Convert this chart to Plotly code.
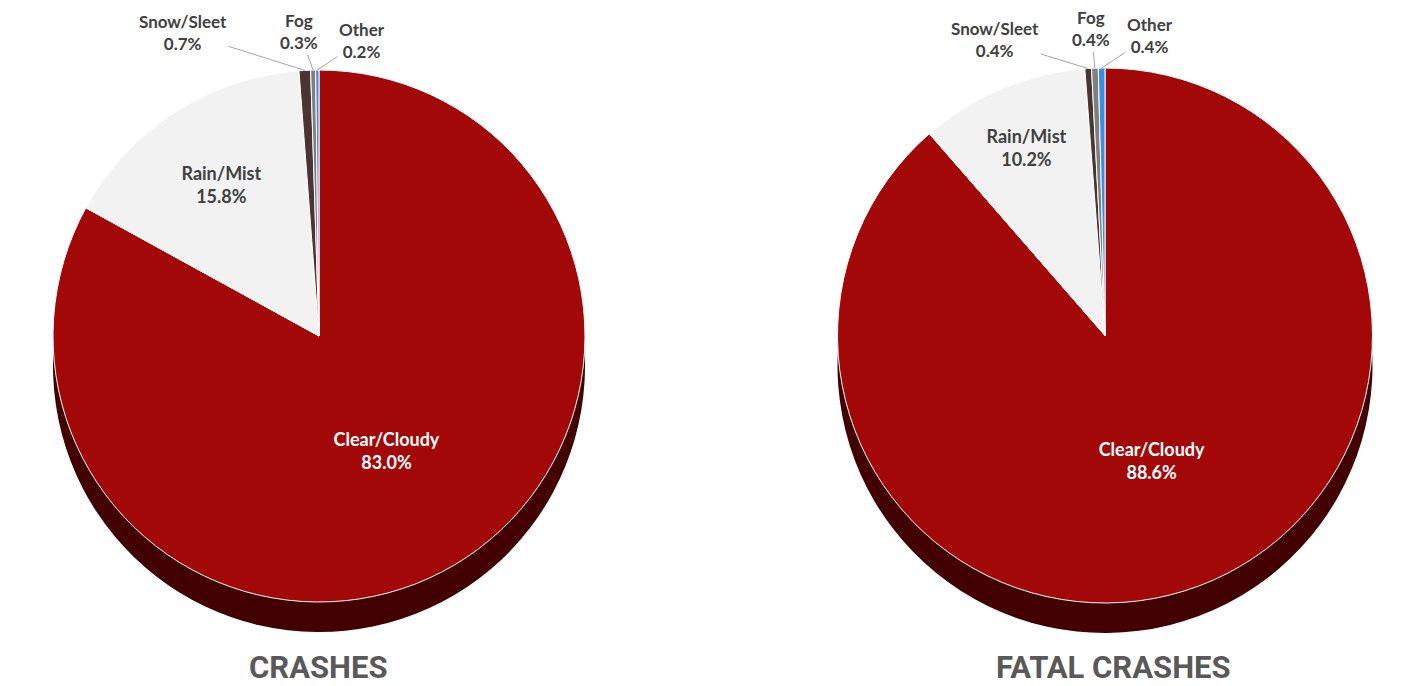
import math
import plotly.graph_objects as go

categories = ["Clear/Cloudy", "Rain/Mist", "Snow/Sleet", "Fog", "Other"]
crashes_pct = [83.0, 15.8, 0.7, 0.3, 0.2]
fatal_pct = [88.6, 10.2, 0.4, 0.4, 0.4]
titles = ["CRASHES", "FATAL CRASHES"]

colors = ["#a20808", "#f2f2f2", "#4b3434", "#7f7f7f", "#3a8ee6"]
side_colors = ["#420000", "#420000", "#2a1c1c", "#444444", "#1d4a80"]
text_colors = ["#ffffff", "#404040", "#404040", "#404040", "#404040"]
FONT = "Lato, DejaVu Sans, sans-serif"

W, H = 1401, 686
OFF = 8  # page body margin


def px(x):
    return (x - OFF) / W


def py(y):
    return 1 - (y - OFF) / H


pies = [
    dict(vals=crashes_pct, cx=319, top=70, bottom=602, title=titles[0], tx=318,
         lab_pos={2: (183, 32), 3: (299, 32), 4: (362, 40)}),
    dict(vals=fatal_pct, cx=1105, top=68, bottom=603, title=titles[1], tx=1113,
         lab_pos={2: (995, 40), 3: (1091, 29), 4: (1150, 36)}),
]
depth = 30

fig = go.Figure()
for p in pies:
    d = p["bottom"] - p["top"]
    r = d / 2
    cy = (p["top"] + p["bottom"]) / 2
    x0, x1 = px(p["cx"] - r), px(p["cx"] + r)
    y1, y0 = py(p["top"]), py(p["bottom"])
    dy = depth / H
    fig.add_trace(go.Pie(
        labels=categories, values=p["vals"], sort=False, direction="clockwise",
        rotation=0, marker=dict(colors=side_colors, line=dict(width=0)),
        textinfo="none", hoverinfo="skip", showlegend=False,
        domain=dict(x=[x0, x1], y=[y0 - dy, y1 - dy]),
    ))
    templates = ["<b>%{label}<br>%{value:.1f}%</b>" if i < 2 else "" for i in range(len(categories))]
    fig.add_trace(go.Pie(
        labels=categories, values=p["vals"], sort=False, direction="clockwise",
        rotation=0, marker=dict(colors=colors, line=dict(color="white", width=1)),
        texttemplate=templates,
        textposition="inside",
        insidetextorientation="horizontal",
        textfont=dict(color=text_colors, size=18, family=FONT),
        showlegend=False,
        domain=dict(x=[x0, x1], y=[y0, y1]),
    ))
    total = sum(p["vals"])
    cum = 0.0
    for i, v in enumerate(p["vals"]):
        mid = 2 * math.pi * (cum + v / 2) / total
        cum += v
        if i not in p["lab_pos"]:
            continue
        tipx = p["cx"] + r * math.sin(mid)
        tipy = cy - r * math.cos(mid)
        lx, ly = p["lab_pos"][i]
        fig.add_annotation(
            text="<b>%s<br>%.1f%%</b>" % (categories[i], v),
            x=px(tipx), y=py(tipy), xref="paper", yref="paper",
            ax=lx - tipx, ay=ly - tipy, showarrow=True, arrowhead=0,
            arrowwidth=1, arrowcolor="#a6a6a6", standoff=0,
            font=dict(size=17, color="#404040", family=FONT),
            align="center",
        )
    fig.add_annotation(
        text="<b>" + p["title"] + "</b>", x=px(p["tx"]), y=py(667),
        xref="paper", yref="paper", showarrow=False,
        font=dict(size=31, color="#595959", family="Roboto, sans-serif"),
        xanchor="center", yanchor="middle",
    )

fig.update_layout(
    width=W, height=H, margin=dict(l=0, r=0, t=0, b=0),
    paper_bgcolor="white", plot_bgcolor="white",
)
fig.write_html("out.html")
